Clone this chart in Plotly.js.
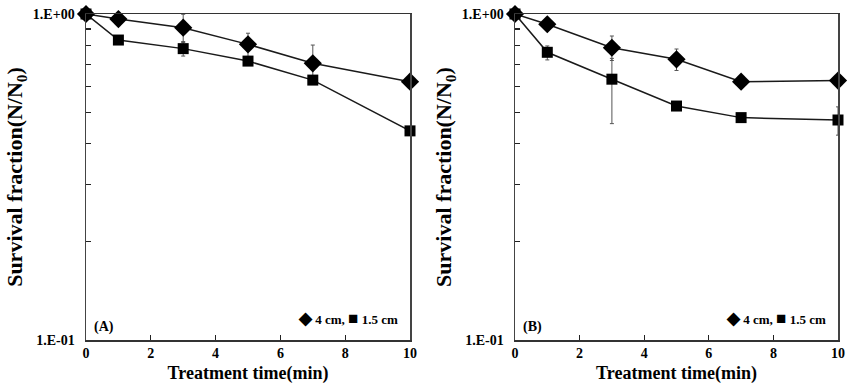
<!DOCTYPE html>
<html>
<head>
<meta charset="utf-8">
<script src="https://cdn.plot.ly/plotly-3.0.1.min.js"></script>
<style>html,body{margin:0;padding:0;background:#fff}#chart{width:852px;height:388px}</style>
</head>
<body>
<div id="chart"></div>
<script>
// ---- data ----
const timeMin = [0, 1, 3, 5, 7, 10];
// Panel A
const a_4cm = [1.0, 0.965, 0.908, 0.807, 0.706, 0.62];
const a_4cm_err = [0, 0, 0.09, 0.066, 0.097, 0];
const a_15cm = [1.0, 0.832, 0.783, 0.717, 0.627, 0.438];
const a_15cm_err = [0, 0, 0.04, 0, 0, 0];
// Panel B
const b_4cm = [1.0, 0.93, 0.788, 0.726, 0.62, 0.625];
const b_4cm_err = [0, 0.01, 0.068, 0.055, 0, 0];
const b_15cm = [1.0, 0.763, 0.631, 0.522, 0.481, 0.473];
const b_15cm_errPlus = [0, 0.035, 0.10, 0.015, 0, 0.046];
const b_15cm_errMinus = [0, 0.04, 0.17, 0.015, 0, 0.048];
// ticks
const xTicks = [0, 2, 4, 6, 8, 10];
const xTickText = ['0', '2', '4', '6', '8', '10'];
const yTickVals = [0.1, 1.0];
const yTickText = ['1.E-01', '1.E+00'];
const yMinorVals = [0.2, 0.3, 0.4, 0.5, 0.6, 0.7, 0.8, 0.9];

const FONT = 'Liberation Serif, Times New Roman, serif';
const lineCol = '#1a1a1a';

function series(x, y, errP, errM, sym, size, xa, ya) {
  const e = {type: 'data', array: errP, visible: true, color: '#555', thickness: 1, width: 2};
  if (errM) { e.symmetric = false; e.arrayminus = errM; }
  return {
    x: x, y: y, xaxis: xa, yaxis: ya, type: 'scatter', mode: 'lines+markers',
    line: {color: lineCol, width: 1.5},
    marker: {symbol: sym, size: size, color: '#000'},
    error_y: e, showlegend: false, cliponaxis: false
  };
}

const traces = [
  series(timeMin, a_4cm, a_4cm_err, null, 'diamond', 14, 'x', 'y'),
  series(timeMin, a_15cm, a_15cm_err, null, 'square', 11, 'x', 'y'),
  series(timeMin, b_4cm, b_4cm_err, null, 'diamond', 14, 'x2', 'y2'),
  series(timeMin, b_15cm, b_15cm_errPlus, b_15cm_errMinus, 'square', 11, 'x2', 'y2')
];

const bold = s => '<b>' + s + '</b>';

function xax(domain, anchor) {
  return {
    domain: domain, anchor: anchor, range: [0, 10],
    tickmode: 'array', tickvals: xTicks, ticktext: xTickText.map(bold),
    ticks: 'inside', ticklen: 5, tickcolor: '#222', tickwidth: 1.2,
    showline: true, linecolor: '#333', linewidth: 1.5, mirror: true,
    showgrid: false, zeroline: false,
    tickfont: {family: FONT, size: 14, color: '#000'},
    title: {text: '<b>Treatment time(min)</b>', font: {family: FONT, size: 18, color: '#000'}, standoff: 6}
  };
}
function yax(anchor) {
  return {
    domain: [0, 1], anchor: anchor, type: 'log', range: [-1, 0],
    tickmode: 'array', tickvals: yTickVals, ticktext: yTickText.map(s => bold(s) + '&nbsp;&nbsp;'),
    ticks: 'inside', ticklen: 5, tickcolor: '#222', tickwidth: 1.2,
    minor: {tickvals: yMinorVals, ticks: 'inside', ticklen: 5, tickcolor: '#222', tickwidth: 1.2, showgrid: false},
    showline: true, linecolor: '#444', linewidth: 1.5, mirror: true,
    showgrid: false, zeroline: false,
    tickfont: {family: FONT, size: 14, color: '#000'},
    title: {text: '<b>Survival fraction(N/N<sub>0</sub>)</b>', font: {family: FONT, size: 22, color: '#000'}, standoff: 4}
  };
}

const legendText = '<span style="font-size:17px">◆</span> 4 cm, <span style="font-size:17px">■</span> 1.5 cm';

const layout = {
  width: 852, height: 388,
  margin: {l: 0, r: 0, t: 14, b: 48},
  paper_bgcolor: '#fff', plot_bgcolor: '#fff',
  xaxis: xax([86/852, 410/852], 'y'),
  yaxis: yax('x'),
  xaxis2: xax([515/852, 838/852], 'y2'),
  yaxis2: yax('x2'),
  annotations: [
    {xref: 'x domain', yref: 'y domain', x: 0.02, y: 0.01, xanchor: 'left', yanchor: 'bottom', text: '<b>(A)</b>', showarrow: false, font: {family: FONT, size: 14, color: '#000'}},
    {xref: 'x domain', yref: 'y domain', x: 0.97, y: 0.03, xanchor: 'right', yanchor: 'bottom', text: '<b>' + legendText + '</b>', showarrow: false, font: {family: FONT, size: 13, color: '#000'}},
    {xref: 'x2 domain', yref: 'y2 domain', x: 0.02, y: 0.01, xanchor: 'left', yanchor: 'bottom', text: '<b>(B)</b>', showarrow: false, font: {family: FONT, size: 14, color: '#000'}},
    {xref: 'x2 domain', yref: 'y2 domain', x: 0.97, y: 0.03, xanchor: 'right', yanchor: 'bottom', text: '<b>' + legendText + '</b>', showarrow: false, font: {family: FONT, size: 13, color: '#000'}}
  ]
};

Plotly.newPlot('chart', traces, layout, {displayModeBar: false, staticPlot: true});
</script>
</body>
</html>
